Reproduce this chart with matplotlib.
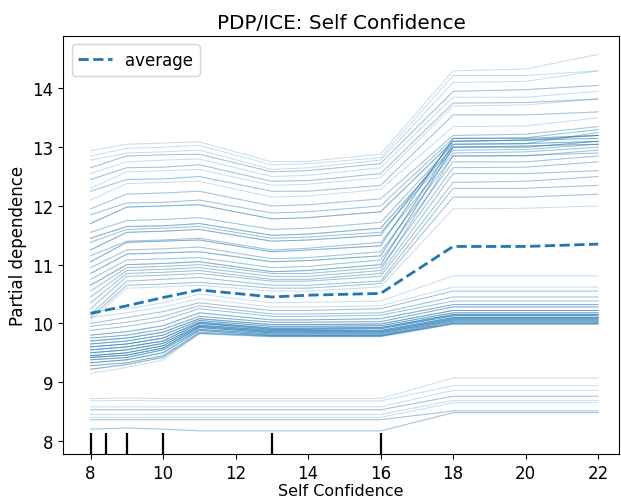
import matplotlib
matplotlib.use("Agg")
import matplotlib.pyplot as plt
import numpy as np

# grid values of the feature
grid = [8, 9, 10, 11, 13, 14, 16, 18, 20, 22]

# individual conditional expectation curves
# upper group
ice_upper = [
    [12.94, 13.05, 13.07, 13.09, 12.75, 12.76, 12.88, 14.30, 14.33, 14.58],
    [12.85, 12.98, 13.00, 13.03, 12.70, 12.72, 12.82, 14.22, 14.22, 14.30],
    [12.78, 12.90, 12.92, 12.95, 12.62, 12.65, 12.78, 14.10, 14.12, 14.30],
    [12.65, 12.85, 12.87, 12.88, 12.58, 12.60, 12.72, 13.95, 13.98, 14.05],
    [12.55, 12.75, 12.78, 12.80, 12.50, 12.52, 12.65, 13.85, 13.85, 13.95],
    [12.45, 12.65, 12.66, 12.70, 12.42, 12.43, 12.55, 13.75, 13.76, 13.82],
    [12.30, 12.58, 12.60, 12.62, 12.35, 12.37, 12.48, 13.70, 13.72, 13.82],
    [12.25, 12.45, 12.46, 12.50, 12.25, 12.25, 12.35, 13.55, 13.55, 13.60],
    [12.10, 12.38, 12.40, 12.42, 12.15, 12.17, 12.28, 13.35, 13.36, 13.50],
    [11.95, 12.20, 12.22, 12.25, 12.00, 12.02, 12.12, 13.20, 13.22, 13.35],
    [11.85, 12.05, 12.06, 12.10, 11.88, 11.90, 12.00, 13.15, 13.16, 13.30],
    [11.70, 11.98, 12.00, 12.02, 11.78, 11.80, 11.90, 13.10, 13.12, 13.20],
    [11.55, 11.75, 11.77, 11.80, 11.60, 11.62, 11.72, 13.05, 13.06, 13.25],
    [11.45, 11.65, 11.66, 11.70, 11.50, 11.52, 11.62, 13.00, 13.00, 13.10],
    [11.38, 11.60, 11.62, 11.65, 11.45, 11.47, 11.55, 12.95, 12.96, 13.05],
    [11.25, 11.55, 11.57, 11.60, 11.40, 11.42, 11.50, 13.10, 13.12, 13.15],
    [11.15, 11.40, 11.42, 11.45, 11.25, 11.28, 11.38, 12.90, 12.92, 13.00],
    [11.05, 11.38, 11.40, 11.42, 11.22, 11.25, 11.32, 13.15, 13.15, 13.20],
    [10.95, 11.25, 11.27, 11.30, 11.10, 11.12, 11.22, 12.85, 12.85, 12.95],
    [10.85, 11.18, 11.20, 11.22, 11.05, 11.07, 11.15, 13.05, 13.06, 13.10],
    [10.75, 11.08, 11.10, 11.12, 10.95, 10.97, 11.08, 12.75, 12.75, 12.85],
    [10.65, 11.00, 11.02, 11.05, 10.88, 10.90, 11.00, 13.00, 13.02, 13.05],
    [10.55, 10.95, 10.97, 11.00, 10.85, 10.85, 10.95, 12.65, 12.66, 12.75],
    [10.45, 10.90, 10.92, 10.95, 10.80, 10.80, 10.90, 12.85, 12.86, 12.90],
    [10.35, 10.85, 10.87, 10.90, 10.75, 10.75, 10.85, 12.55, 12.55, 12.60],
    [10.25, 10.80, 10.82, 10.85, 10.72, 10.72, 10.80, 12.40, 12.42, 12.50],
    [10.15, 10.72, 10.75, 10.78, 10.65, 10.65, 10.72, 12.30, 12.30, 12.35],
    [10.10, 10.65, 10.67, 10.70, 10.60, 10.60, 10.68, 12.15, 12.15, 12.20],
    [10.05, 10.60, 10.62, 10.65, 10.55, 10.55, 10.62, 11.95, 11.96, 12.00],
]
count_upper = [1, 1, 1, 2, 1, 2, 1, 2, 1, 2, 2, 3, 2, 3, 2, 3, 2, 3, 2, 3,
               2, 3, 2, 2, 2, 2, 2, 2, 1]

# main lower group
ice_lower = [
    [10.20, 10.25, 10.35, 10.50, 10.35, 10.36, 10.38, 10.81, 10.81, 10.81],
    [10.10, 10.18, 10.28, 10.42, 10.28, 10.28, 10.30, 10.62, 10.62, 10.62],
    [10.00, 10.10, 10.20, 10.35, 10.22, 10.22, 10.25, 10.55, 10.55, 10.55],
    [9.95, 10.02, 10.12, 10.30, 10.16, 10.16, 10.18, 10.45, 10.45, 10.45],
    [9.88, 9.95, 10.05, 10.25, 10.12, 10.12, 10.14, 10.38, 10.38, 10.38],
    [9.80, 9.86, 9.96, 10.18, 10.06, 10.06, 10.08, 10.32, 10.32, 10.32],
    [9.75, 9.80, 9.90, 10.12, 10.02, 10.02, 10.03, 10.28, 10.28, 10.28],
    [9.70, 9.75, 9.85, 10.08, 9.98, 9.98, 9.99, 10.22, 10.22, 10.22],
    [9.65, 9.70, 9.80, 10.05, 9.95, 9.95, 9.96, 10.18, 10.18, 10.18],
    [9.60, 9.65, 9.75, 10.02, 9.92, 9.92, 9.93, 10.15, 10.15, 10.15],
    [9.55, 9.60, 9.70, 10.00, 9.90, 9.90, 9.91, 10.13, 10.13, 10.13],
    [9.50, 9.55, 9.66, 9.97, 9.88, 9.88, 9.88, 10.10, 10.10, 10.10],
    [9.45, 9.50, 9.62, 9.95, 9.86, 9.86, 9.86, 10.08, 10.08, 10.08],
    [9.42, 9.46, 9.58, 9.93, 9.84, 9.84, 9.84, 10.06, 10.06, 10.06],
    [9.38, 9.42, 9.55, 9.90, 9.82, 9.82, 9.82, 10.04, 10.04, 10.04],
    [9.33, 9.38, 9.50, 9.88, 9.80, 9.80, 9.80, 10.02, 10.02, 10.02],
    [9.28, 9.33, 9.45, 9.85, 9.79, 9.79, 9.79, 10.00, 10.00, 10.00],
    [9.22, 9.30, 9.42, 9.83, 9.78, 9.78, 9.78, 9.99, 9.99, 9.99],
    [9.15, 9.25, 9.38, 9.82, 9.77, 9.77, 9.77, 9.99, 9.99, 9.99],
]
count_lower = [1, 1, 2, 2, 2, 3, 3, 4, 4, 5, 5, 5, 5, 5, 4, 4, 3, 3, 1]

# bottom group
ice_bottom = [
    [8.72, 8.73, 8.72, 8.72, 8.72, 8.72, 8.72, 9.07, 9.07, 9.07],
    [8.68, 8.69, 8.68, 8.68, 8.68, 8.68, 8.68, 8.94, 8.94, 8.94],
    [8.58, 8.58, 8.58, 8.58, 8.58, 8.58, 8.58, 8.86, 8.86, 8.86],
    [8.53, 8.53, 8.53, 8.53, 8.53, 8.53, 8.53, 8.76, 8.76, 8.76],
    [8.45, 8.45, 8.45, 8.45, 8.45, 8.45, 8.45, 8.69, 8.69, 8.69],
    [8.40, 8.40, 8.40, 8.40, 8.40, 8.40, 8.40, 8.65, 8.65, 8.65],
    [8.36, 8.36, 8.36, 8.36, 8.36, 8.36, 8.36, 8.51, 8.51, 8.51],
    [8.20, 8.22, 8.20, 8.17, 8.17, 8.17, 8.17, 8.48, 8.48, 8.48],
]
count_bottom = [1, 1, 1, 2, 1, 1, 2, 2]

# partial dependence (average)
average = [10.17, 10.30, 10.44, 10.57, 10.45, 10.48, 10.51, 11.31, 11.31, 11.35]

# deciles of the feature (rug)
deciles = [8, 8.43, 9, 10, 13, 16]

plt.rcParams['font.size'] = 12

fig = plt.figure(figsize=(6.21, 5.02), dpi=100)
ax = fig.add_axes([0.102, 0.094, 0.895, 0.832])

for rows, counts in [(ice_upper, count_upper), (ice_lower, count_lower),
                     (ice_bottom, count_bottom)]:
    for row, n in zip(rows, counts):
        for _ in range(n):
            ax.plot(grid, row, color='tab:blue', alpha=0.25, linewidth=0.7)

ax.plot(grid, average, color='tab:blue', linestyle='--', linewidth=2,
        label='average')

ax.vlines(deciles, 0, 0.05, transform=ax.get_xaxis_transform(),
          colors='k', linewidth=1.6)

ax.set_xlim(7.25, 22.58)
ax.set_ylim(7.78, 14.89)
ax.set_xticks(np.arange(8, 23, 2))
ax.set_yticks(np.arange(8, 15, 1))

ax.set_xlabel('Self Confidence', fontsize=11.5, labelpad=1)
ax.set_ylabel('Partial dependence')
ax.set_title('PDP/ICE: Self Confidence')
ax.legend(loc='upper left')

fig.savefig('out.png', dpi=100)
